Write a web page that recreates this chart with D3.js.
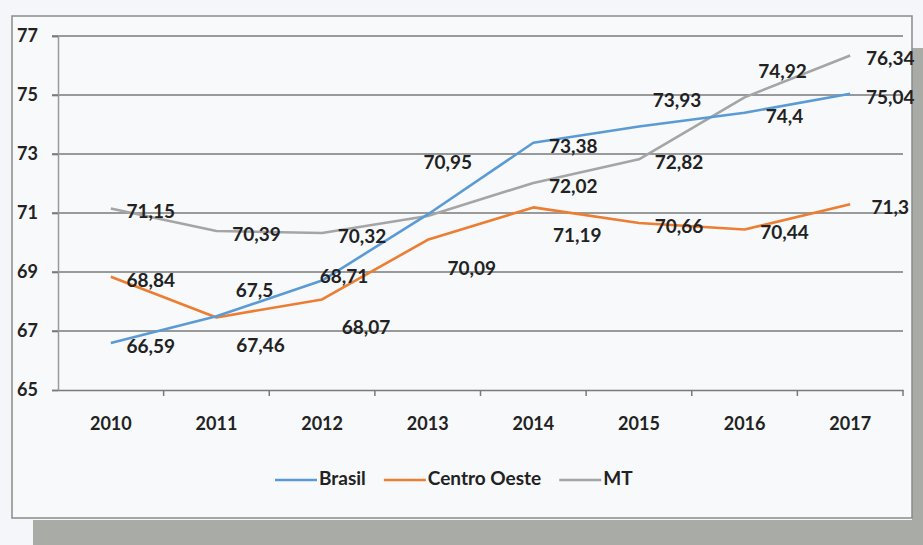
<!DOCTYPE html>
<html><head><meta charset="utf-8">
<script src="https://cdn.jsdelivr.net/npm/d3@7"></script>
<style>
html,body{margin:0;padding:0;background:#f4f6f9;}
svg{display:block;font-family:Lato,"Open Sans",sans-serif;font-weight:700;}
</style></head>
<body>
<svg id="c" width="923" height="545"></svg>
<script>
const years = ["2010","2011","2012","2013","2014","2015","2016","2017"];
const brasil = [66.59, 67.5, 68.71, 70.95, 73.38, 73.93, 74.4, 75.04];
const centroOeste = [68.84, 67.46, 68.07, 70.09, 71.19, 70.66, 70.44, 71.3];
const mt = [71.15, 70.39, 70.32, 70.9, 72.02, 72.82, 74.92, 76.34];
const yTicks = [65, 67, 69, 71, 73, 75, 77];
const seriesNames = ["Brasil", "Centro Oeste", "MT"];

// label placement codes (layout only): r=right, a=above, b=below, c=close, n=none
const placement = {
  "Brasil":       ["r","a","c","aa","r","a","r","r"],
  "Centro Oeste": ["r","b","b","b","b","r","r","r"],
  "MT":           ["r","r","r","n","r","r","a","r"]
};
const colors = {"Brasil":"#5b9bd5","Centro Oeste":"#ed7d31","MT":"#a5a5a5"};
const values = {"Brasil":brasil,"Centro Oeste":centroOeste,"MT":mt};

const svg = d3.select("#c");
const fmt = v => String(v).replace(".", ",");

// frame & shadows
svg.append("rect").attr("x",33).attr("y",520).attr("width",890).attr("height",25).attr("fill","#a9aba7");
svg.append("rect").attr("x",912).attr("y",48).attr("width",11).attr("height",497).attr("fill","#a9aba7");
svg.append("rect").attr("x",12).attr("y",16).attr("width",900).attr("height",502)
  .attr("fill","#f7f9fb").attr("stroke","#8a8a8a").attr("stroke-width",1.5);

const L = 58, R = 903, T = 36, B = 390;
const x = d3.scaleBand().domain(years).range([L, R]);
const y = d3.scaleLinear().domain([65, 77]).range([B, T]);

// gridlines
svg.append("g").selectAll("line").data(yTicks.filter(d=>d>65)).join("line")
  .attr("x1", L-6).attr("x2", R).attr("y1", d=>y(d)).attr("y2", d=>y(d))
  .attr("stroke","#7a7a7a").attr("stroke-width",1.6);

// y axis
const ya = svg.append("g").attr("transform",`translate(${L},0)`)
  .call(d3.axisLeft(y).tickValues(yTicks).tickSize(6).tickPadding(14).tickFormat(d=>d));
ya.select(".domain").attr("stroke","#9a9a9a").attr("stroke-width",1.5);
ya.selectAll(".tick line").attr("stroke","#7a7a7a").attr("stroke-width",1.6);
ya.selectAll("text").attr("font-size",18).attr("fill","#222").attr("font-family","Lato").attr("font-weight",700);

// x axis
const xa = svg.append("g").attr("transform",`translate(0,${B})`)
  .call(d3.axisBottom(x).tickSize(0).tickPadding(27));
xa.select(".domain").attr("stroke","#7a7a7a").attr("stroke-width",1.6);
xa.selectAll("text").attr("font-size",18).attr("fill","#222").attr("font-family","Lato").attr("font-weight",700);
svg.append("g").selectAll("line").data(years.slice(1).concat(["end"])).join("line")
  .attr("x1", (d,i)=> L + x.step()*(i+1)).attr("x2",(d,i)=> L + x.step()*(i+1))
  .attr("y1", B).attr("y2", B+6).attr("stroke","#7a7a7a").attr("stroke-width",1.5);

// lines
const line = d3.line().x((d,i)=>x(years[i])+x.bandwidth()/2).y(d=>y(d));
["MT","Centro Oeste","Brasil"].forEach(s=>{
  svg.append("path").datum(values[s]).attr("d",line)
    .attr("fill","none").attr("stroke",colors[s]).attr("stroke-width",2.6).attr("stroke-linejoin","round");
});

// labels
const off = {r:[40,5],a:[38,-24],b:[44,30],c:[22,-2],aa:[20,-50]};
seriesNames.forEach(s=>{
  values[s].forEach((v,i)=>{
    const p = placement[s][i];
    if (p==="n") return;
    const px = x(years[i])+x.bandwidth()/2, py = y(v);
    svg.append("text").attr("x", px+off[p][0]).attr("y", py+off[p][1])
      .attr("text-anchor","middle").attr("dominant-baseline","middle")
      .attr("font-size",19).attr("fill","#222").text(fmt(v));
  });
});

// legend
const leg = svg.append("g").attr("transform","translate(275,480)");
let lx = 0;
seriesNames.forEach(s=>{
  leg.append("line").attr("x1",lx).attr("x2",lx+42).attr("y1",0).attr("y2",0)
    .attr("stroke",colors[s]).attr("stroke-width",2.6);
  const t = leg.append("text").attr("x",lx+44).attr("y",0).attr("dominant-baseline","middle")
    .attr("font-size",19).attr("fill","#222").text(s);
  lx += 44 + t.node().getComputedTextLength() + 18;
});
</script>
</body></html>
